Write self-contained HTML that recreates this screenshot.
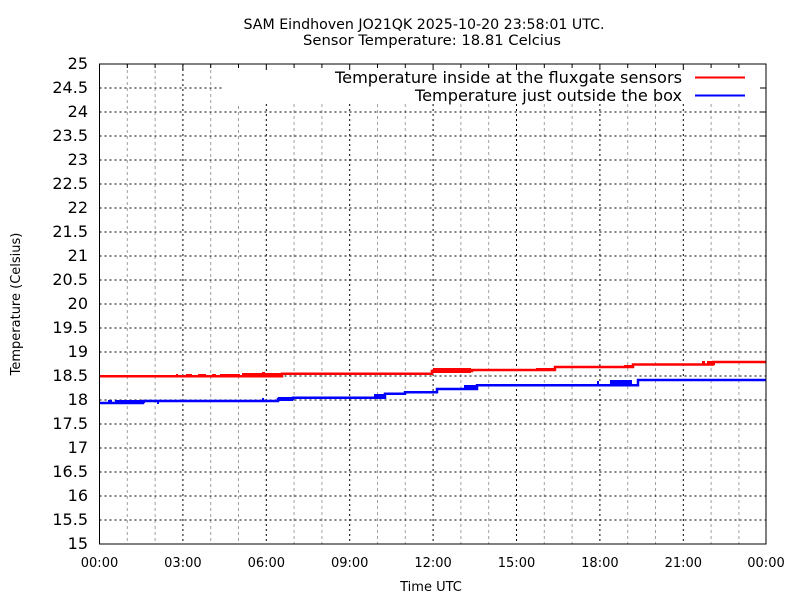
<!DOCTYPE html>
<html><head><meta charset="utf-8"><style>
html,body{margin:0;padding:0;background:#fff}
svg{display:block;font-family:"DejaVu Sans","Liberation Sans",sans-serif}
</style></head><body>
<svg width="800" height="600" viewBox="0 0 800 600" xmlns="http://www.w3.org/2000/svg">
<rect width="800" height="600" fill="#fff"/>
<g id="grid">
<g stroke="#a0a0a0" stroke-width="1" stroke-dasharray="3,3">
<line x1="127.3" y1="64" x2="127.3" y2="544"/><line x1="155.1" y1="64" x2="155.1" y2="544"/>
<line x1="210.7" y1="64" x2="210.7" y2="544"/><line x1="238.5" y1="64" x2="238.5" y2="544"/>
<line x1="294.1" y1="104" x2="294.1" y2="544"/><line x1="321.9" y1="104" x2="321.9" y2="544"/>
<line x1="377.5" y1="104" x2="377.5" y2="544"/><line x1="405.3" y1="104" x2="405.3" y2="544"/>
<line x1="460.9" y1="104" x2="460.9" y2="544"/><line x1="488.7" y1="104" x2="488.7" y2="544"/>
<line x1="544.3" y1="104" x2="544.3" y2="544"/><line x1="572.1" y1="104" x2="572.1" y2="544"/>
<line x1="627.7" y1="104" x2="627.7" y2="544"/><line x1="655.5" y1="104" x2="655.5" y2="544"/>
<line x1="711.1" y1="104" x2="711.1" y2="544"/><line x1="738.9" y1="104" x2="738.9" y2="544"/>
</g>
<g stroke="#000" stroke-width="1" stroke-dasharray="2,3">
<line x1="182.9" y1="64" x2="182.9" y2="544"/>
<line x1="266.3" y1="104" x2="266.3" y2="544"/>
<line x1="349.7" y1="104" x2="349.7" y2="544"/>
<line x1="433.1" y1="104" x2="433.1" y2="544"/>
<line x1="516.5" y1="104" x2="516.5" y2="544"/>
<line x1="599.9" y1="104" x2="599.9" y2="544"/>
<line x1="683.3" y1="104" x2="683.3" y2="544"/>
<line x1="99.5" y1="88" x2="222" y2="88"/>
<line x1="99.5" y1="112" x2="766" y2="112"/><line x1="99.5" y1="136" x2="766" y2="136"/>
<line x1="99.5" y1="160" x2="766" y2="160"/><line x1="99.5" y1="184" x2="766" y2="184"/>
<line x1="99.5" y1="208" x2="766" y2="208"/><line x1="99.5" y1="232" x2="766" y2="232"/>
<line x1="99.5" y1="256" x2="766" y2="256"/><line x1="99.5" y1="280" x2="766" y2="280"/>
<line x1="99.5" y1="304" x2="766" y2="304"/><line x1="99.5" y1="328" x2="766" y2="328"/>
<line x1="99.5" y1="352" x2="766" y2="352"/><line x1="99.5" y1="376" x2="766" y2="376"/>
<line x1="99.5" y1="400" x2="766" y2="400"/><line x1="99.5" y1="424" x2="766" y2="424"/>
<line x1="99.5" y1="448" x2="766" y2="448"/><line x1="99.5" y1="472" x2="766" y2="472"/>
<line x1="99.5" y1="496" x2="766" y2="496"/><line x1="99.5" y1="520" x2="766" y2="520"/>
</g>
</g>
<g fill="none" stroke="#ff0000" stroke-width="2.5">
<polyline points="99,376.3 282,376.3 282,373.7 432,373.7 432,371 472,371 472,370 555,370 555,367 633,367 633,364.5 713,364.5 713,362 766,362"/>
</g>
<g fill="#ff0000">
<rect x="176" y="374" width="2" height="3"/><rect x="186" y="374" width="6" height="3"/><rect x="198" y="374" width="8" height="3"/>
<rect x="212" y="374" width="4" height="3"/><rect x="220" y="374" width="20" height="3"/><rect x="242" y="373" width="40" height="4"/>
<rect x="262" y="372" width="3" height="3"/>
<rect x="433" y="368" width="38" height="5"/><rect x="536" y="368" width="20" height="3"/><rect x="624" y="365" width="10" height="3"/>
<rect x="702" y="361" width="3" height="3"/><rect x="707" y="361" width="8" height="4"/>
</g>
<g fill="none" stroke="#0000ff" stroke-width="2.5">
<polyline points="99,403 143,403 143,401 278,401 278,399 293,399 293,397.7 385,397.7 385,393.7 405,393.7 405,392.3 437,392.3 437,389 477,389 477,385.3 638,385.3 638,380 766,380"/>
</g>
<g fill="#0000ff">
<rect x="108" y="400" width="4" height="3"/><rect x="115" y="400" width="30" height="3"/><rect x="157" y="401" width="2" height="3"/>
<rect x="262" y="398" width="2" height="3"/><rect x="278" y="397" width="15" height="4"/>
<rect x="374" y="394" width="11" height="4"/><rect x="464" y="385" width="14" height="4"/>
<rect x="597" y="381" width="2" height="5"/><rect x="610" y="380" width="22" height="5"/>
</g>
<rect x="223" y="65" width="542" height="38" fill="#fff"/>
<g font-size="16" fill="#000" text-anchor="end">
<text x="682" y="83" textLength="347" lengthAdjust="spacingAndGlyphs">Temperature inside at the fluxgate sensors</text>
<text x="682" y="101" textLength="267" lengthAdjust="spacingAndGlyphs">Temperature just outside the box</text>
</g>
<line x1="695" y1="77.5" x2="745" y2="77.5" stroke="#ff0000" stroke-width="2"/>
<line x1="695" y1="95.5" x2="745" y2="95.5" stroke="#0000ff" stroke-width="2"/>
<g stroke="#000" stroke-width="1">
<path d="M127.3,64v4M155.1,64v4M182.9,64v6M210.7,64v4M238.5,64v4M266.3,64v6M294.1,64v4M321.9,64v4M349.7,64v6M377.5,64v4M405.3,64v4M433.1,64v6M460.9,64v4M488.7,64v4M516.5,64v6M544.3,64v4M572.1,64v4M599.9,64v6M627.7,64v4M655.5,64v4M683.3,64v6M711.1,64v4M738.9,64v4"/>
<path d="M766,88h-6M766,112h-6M766,136h-6"/>
</g>
<rect x="99.5" y="64" width="666.5" height="480" fill="none" stroke="#000" stroke-width="1"/>
<g font-size="16" fill="#000" text-anchor="end">
<text x="88" y="69">25</text><text x="88" y="93">24.5</text><text x="88" y="117">24</text>
<text x="88" y="141">23.5</text><text x="88" y="165">23</text><text x="88" y="189">22.5</text>
<text x="88" y="213">22</text><text x="88" y="237">21.5</text><text x="88" y="261">21</text>
<text x="88" y="285">20.5</text><text x="88" y="309">20</text><text x="88" y="333">19.5</text>
<text x="88" y="357">19</text><text x="88" y="381">18.5</text><text x="88" y="405">18</text>
<text x="88" y="429">17.5</text><text x="88" y="453">17</text><text x="88" y="477">16.5</text>
<text x="88" y="501">16</text><text x="88" y="525">15.5</text><text x="88" y="549">15</text>
</g>
<g font-size="13" fill="#000" text-anchor="middle">
<text x="99.5" y="567">00:00</text><text x="182.9" y="567">03:00</text><text x="266.3" y="567">06:00</text>
<text x="349.7" y="567">09:00</text><text x="433.1" y="567">12:00</text><text x="516.5" y="567">15:00</text>
<text x="599.9" y="567">18:00</text><text x="683.3" y="567">21:00</text><text x="766" y="567">00:00</text>
<text x="431" y="591">Time UTC</text>
<text transform="translate(20,304) rotate(-90)">Temperature (Celsius)</text>
</g>
<g font-size="14" fill="#000" text-anchor="middle">
<text x="424" y="29" textLength="361" lengthAdjust="spacingAndGlyphs">SAM Eindhoven JO21QK 2025-10-20 23:58:01 UTC.</text>
<text x="432" y="45" textLength="258" lengthAdjust="spacingAndGlyphs">Sensor Temperature: 18.81 Celcius</text>
</g>
</svg>
</body></html>
